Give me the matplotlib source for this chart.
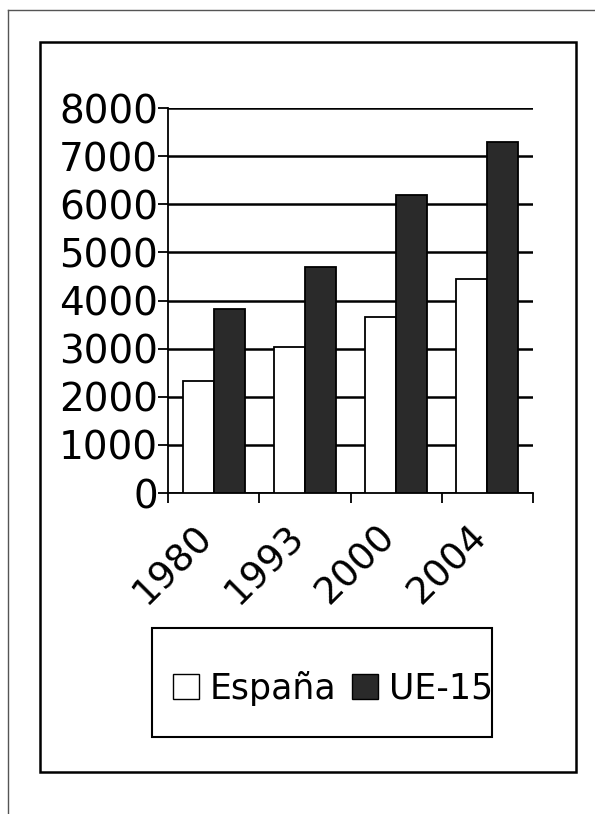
import matplotlib
matplotlib.use("Agg")
import matplotlib.pyplot as plt
import matplotlib.transforms as mtransforms
from matplotlib.patches import Rectangle, Patch
from matplotlib.lines import Line2D
import numpy as np

# data
years = ["1980", "1993", "2000", "2004"]
espana = [2330, 3040, 3660, 4450]
ue15 = [3830, 4700, 6200, 7300]
y_ticks = [0, 1000, 2000, 3000, 4000, 5000, 6000, 7000, 8000]

W, H = 595, 814
fig = plt.figure(figsize=(W / 100, H / 100), dpi=100)

# page edge lines (scan border)
fig.add_artist(Line2D([8 / W, 1], [1 - 10 / H, 1 - 10 / H], color="#555555", lw=1.0))
fig.add_artist(Line2D([8 / W, 8 / W], [0, 1 - 10 / H], color="#555555", lw=1.0))

# outer chart frame
fig.add_artist(Rectangle((40 / W, 1 - 772 / H), 536 / W, 730 / H, fill=False,
                         edgecolor="black", lw=1.8))

# axes
left, right, top, bottom = 168, 533, 108, 493
ax = fig.add_axes([left / W, 1 - bottom / H, (right - left) / W, (bottom - top) / H])

x = np.arange(len(years))
w = 0.34
ax.bar(x - w / 2, espana, w, color="white", edgecolor="black", lw=1.3, zorder=3)
ax.bar(x + w / 2, ue15, w, color="#2a2a2a", edgecolor="black", lw=1.3, zorder=3)

ax.set_xlim(-0.5, len(years) - 0.5)
ax.set_ylim(0, 8000)
ax.set_yticks(y_ticks)
ax.set_yticklabels([str(v) for v in y_ticks], fontsize=28)
ax.yaxis.grid(True, color="black", lw=1.8, zorder=0)
ax.set_axisbelow(True)

ax.set_xticks(x)
ax.set_xticklabels(years, fontsize=27, rotation=45, ha="right", rotation_mode="anchor")
ax.set_xticks(np.arange(-0.5, len(years), 1.0), minor=True)
ax.tick_params(axis="x", which="major", length=0, pad=18)
ax.tick_params(axis="x", which="minor", length=7, width=1.3, direction="out")
ax.tick_params(axis="y", length=7, width=1.3, direction="out", pad=0)

# nudge the rotated year labels to the left, as in the scan
shift = mtransforms.ScaledTranslation(-0.19, 0, fig.dpi_scale_trans)
for lab in ax.get_xticklabels():
    lab.set_transform(lab.get_transform() + shift)

for s in ["top", "right"]:
    ax.spines[s].set_visible(False)
ax.spines["left"].set_linewidth(1.3)
ax.spines["bottom"].set_linewidth(1.3)

# legend box
fig.add_artist(Rectangle((152 / W, 1 - 737 / H), 340 / W, 109 / H, fill=False,
                         edgecolor="black", lw=1.5))
handles = [Patch(facecolor="white", edgecolor="black", label="España"),
           Patch(facecolor="#2a2a2a", edgecolor="black", label="UE-15")]
fig.legend(handles=handles, loc="center", bbox_to_anchor=(333 / W, 1 - 688 / H),
           ncol=2, frameon=False, fontsize=25, handlelength=0.75, handleheight=0.75,
           handletextpad=0.3, columnspacing=0.45)

fig.savefig("out.png", dpi=100)
